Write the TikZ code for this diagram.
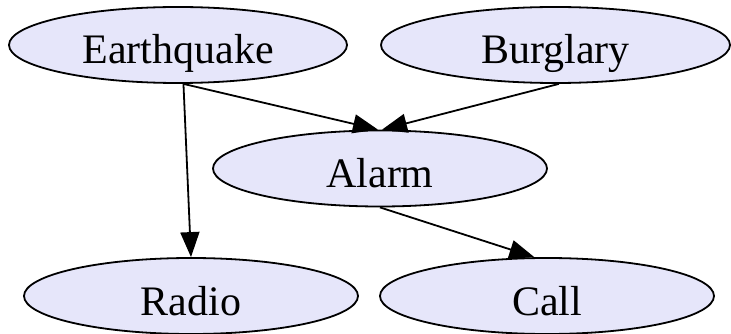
\documentclass[tikz,border=0pt]{standalone}
\usepackage{fontspec}
\setmainfont{Liberation Serif}
\usetikzlibrary{arrows.meta,shapes.geometric}
\definecolor{nodefill}{RGB}{230,230,250}
\tikzset{
  bnode/.style={ellipse, draw=black, fill=nodefill, line width=1.8pt, inner sep=0pt,
    minimum width=#1, minimum height=76pt, text height=38pt, text depth=0pt,
    font=\fontsize{42}{50}\selectfont},
  link/.style={draw=black, line width=1.8pt, -{Triangle[length=25pt,width=19pt]}}
}
\begin{document}
\begin{tikzpicture}[x=1pt,y=-1pt]
\useasboundingbox (0,0) rectangle (731,334);
\node[bnode=338pt] (eq) at (178,45) {Earthquake};
\node[bnode=349pt] (bu) at (555.5,45) {Burglary};
\node[bnode=334pt] (al) at (380,168.5) {Alarm};
\node[bnode=334pt] (ra) at (191,296) {Radio};
\node[bnode=334pt] (ca) at (547,296) {Call};
\draw[link] (eq.-82) -- (al.93);
\draw[link] (bu.-85) -- (al.87);
\draw[link] (eq.-82) -- (ra.north);
\draw[link] (al.south) -- (ca.108);
\end{tikzpicture}
\end{document}
